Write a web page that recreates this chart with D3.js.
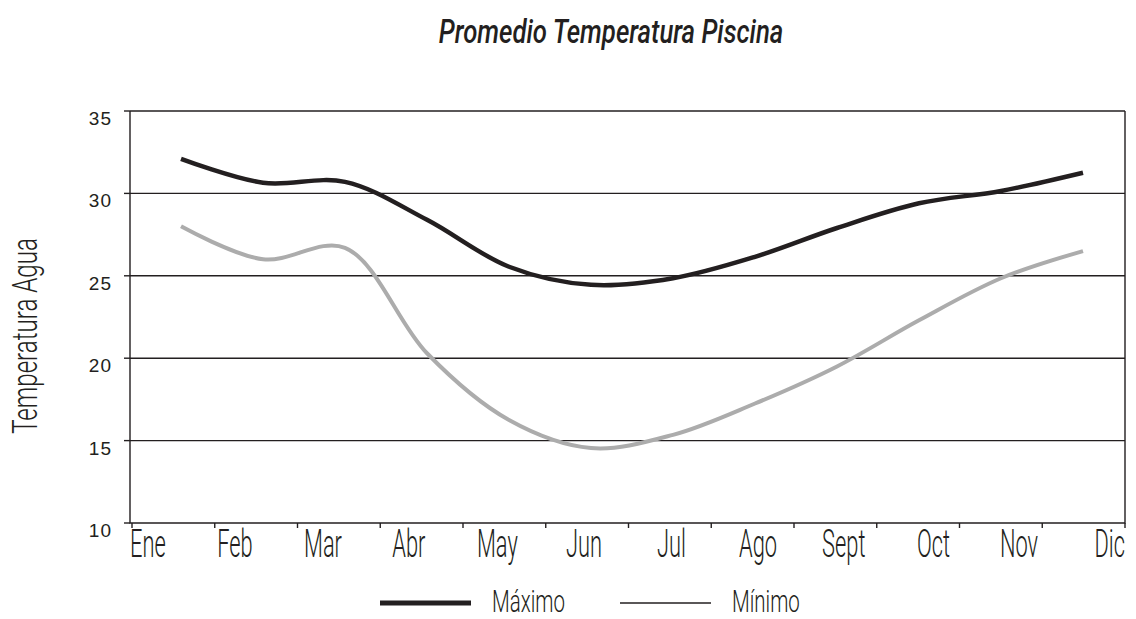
<!DOCTYPE html>
<html>
<head>
<meta charset="utf-8">
<script src="https://cdn.jsdelivr.net/npm/d3@7"></script>
<style>
    body { margin: 0; background: #fff; }
</style>
</head>
<body>
<svg id="chart" width="1136" height="619"></svg>
<script>
var months = ['Ene', 'Feb', 'Mar', 'Abr', 'May', 'Jun', 'Jul', 'Ago', 'Sept', 'Oct', 'Nov', 'Dic'];
var maxTemps = [32.1, 30.65, 30.7, 28.4, 25.55, 24.45, 24.85, 26.15, 27.9, 29.4, 30.15, 31.25];
var minTemps = [28.0, 26.0, 26.7, 20.3, 16.25, 14.55, 15.35, 17.25, 19.5, 22.3, 24.85, 26.5];
var yTicks = [10, 15, 20, 25, 30, 35];
var seriesNames = ['Máximo', 'Mínimo'];
var chartTitle = 'Promedio Temperatura Piscina';
var yTitle = 'Temperatura Agua';

var ink = '#231f20';
var narrow = 0.56; // squeeze Roboto Light into a condensed face

var margin = {top: 111, right: 11, bottom: 96, left: 130},
    width = 1136 - margin.left - margin.right,
    height = 619 - margin.top - margin.bottom;

var svg = d3.select('#chart');
var g = svg.append('g')
    .attr('transform', 'translate(' + margin.left + ',' + margin.top + ')');

var y = d3.scaleLinear().domain([10, 35]).range([height, 0]);
var xTick = d3.scaleLinear().domain([0, 12]).range([2, width]);
var xLabel = d3.scalePoint().domain(months).range([0, width]);
var xData = d3.scalePoint().domain(months).range([51, 953]);

function condensed(parent, str, size, weight) {
    return parent.append('text')
        .text(str)
        .attr('font-family', 'Roboto, "Open Sans", sans-serif')
        .attr('font-size', size)
        .attr('font-weight', weight)
        .attr('fill', ink);
}

// grid lines
g.append('g')
    .selectAll('line')
    .data(yTicks.filter(function(d) { return d > 10; }))
    .enter().append('line')
    .attr('x1', 0).attr('x2', width)
    .attr('y1', function(d) { return y(d); })
    .attr('y2', function(d) { return y(d); })
    .attr('stroke', ink)
    .attr('stroke-width', 1.4);

// frame: left, bottom, right
g.append('path')
    .attr('d', 'M0,0V' + height + 'H' + width + 'V0')
    .attr('fill', 'none')
    .attr('stroke', ink)
    .attr('stroke-width', 1.4);

// y ticks and labels
var yAxis = g.append('g');
yAxis.selectAll('line')
    .data(yTicks)
    .enter().append('line')
    .attr('x1', -6).attr('x2', 0)
    .attr('y1', function(d) { return y(d); })
    .attr('y2', function(d) { return y(d); })
    .attr('stroke', ink)
    .attr('stroke-width', 1.4);
yAxis.selectAll('text')
    .data(yTicks)
    .enter().append('text')
    .attr('x', -18)
    .attr('y', function(d) { return y(d) + 14; })
    .attr('text-anchor', 'end')
    .attr('font-family', '"Liberation Sans", Arial, sans-serif')
    .attr('font-size', 19)
    .attr('letter-spacing', 1)
    .attr('fill', ink)
    .text(function(d) { return d; });

// x ticks
g.append('g')
    .selectAll('line')
    .data(d3.range(13))
    .enter().append('line')
    .attr('x1', function(d) { return xTick(d); })
    .attr('x2', function(d) { return xTick(d); })
    .attr('y1', height).attr('y2', height + 5)
    .attr('stroke', ink)
    .attr('stroke-width', 1.4);

// month labels, spread like justified text
months.forEach(function(m, i) {
    var t = condensed(g, m, 39, 300);
    var w = t.node().getComputedTextLength() * narrow;
    var x = xLabel(m) - w * i / (months.length - 1);
    t.attr('transform', 'translate(' + x + ',' + (height + 34) + ') scale(' + narrow + ',1)');
});

// series
var line = d3.line()
    .x(function(d, i) { return xData(months[i]); })
    .y(function(d) { return y(d); })
    .curve(d3.curveCatmullRom.alpha(0.5));

g.append('path')
    .datum(minTemps)
    .attr('d', line)
    .attr('fill', 'none')
    .attr('stroke', '#acacac')
    .attr('stroke-width', 4);

g.append('path')
    .datum(maxTemps)
    .attr('d', line)
    .attr('fill', 'none')
    .attr('stroke', ink)
    .attr('stroke-width', 4.5);

// title
condensed(svg, chartTitle, 33, 500)
    .attr('font-style', 'italic')
    .attr('text-anchor', 'middle')
    .attr('transform', 'translate(611,43) scale(0.78,1)');

// y axis title
condensed(svg, yTitle, 35, 300)
    .attr('text-anchor', 'middle')
    .attr('transform', 'translate(37,336) rotate(-90) scale(0.69,1)');

// legend
var legend = svg.append('g').attr('transform', 'translate(380,603)');
var legendItems = [
    {name: seriesNames[0], width: 5, x: 0},
    {name: seriesNames[1], width: 1.4, x: 240}
];
legendItems.forEach(function(item) {
    legend.append('line')
        .attr('x1', item.x).attr('x2', item.x + 91)
        .attr('y1', 0).attr('y2', 0)
        .attr('stroke', ink)
        .attr('stroke-width', item.width);
    condensed(legend, item.name, 32, 300)
        .attr('transform', 'translate(' + (item.x + 112) + ',9) scale(0.64,1)');
});
</script>
</body>
</html>
